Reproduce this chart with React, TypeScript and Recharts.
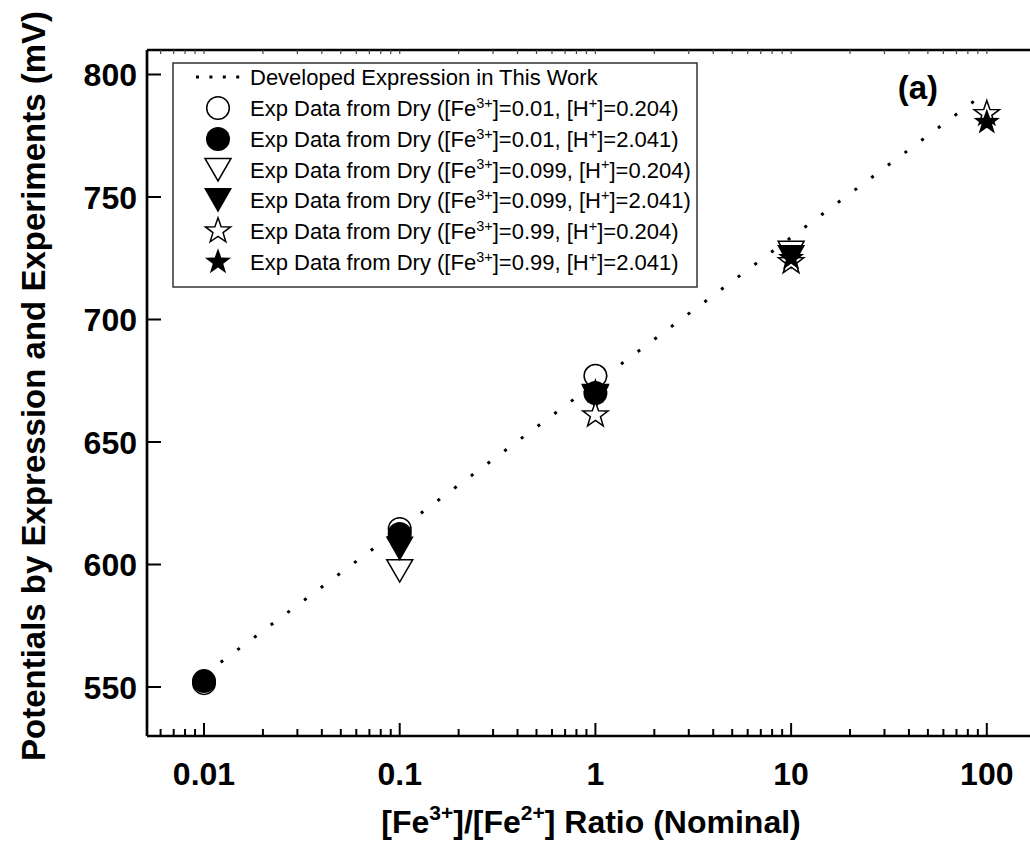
import React from 'react';
import { ComposedChart, Scatter, Line, XAxis, YAxis, Customized } from 'recharts';

// Nominal [Fe3+]/[Fe2+] ratios on the log axis (majors get labels)
const ratioTicks = [
  0.006, 0.007, 0.008, 0.009,
  0.01, 0.02, 0.03, 0.04, 0.05, 0.06, 0.07, 0.08, 0.09,
  0.1, 0.2, 0.3, 0.4, 0.5, 0.6, 0.7, 0.8, 0.9,
  1, 2, 3, 4, 5, 6, 7, 8, 9,
  10, 20, 30, 40, 50, 60, 70, 80, 90,
  100,
];
const majorRatios = [0.01, 0.1, 1, 10, 100];
const potentialTicks = [550, 600, 650, 700, 750, 800];

// Developed expression (potential in mV at each decade of ratio)
const modelRatios = [0.01, 0.1, 1, 10, 100];
const modelPotentials = [555, 614.5, 674, 733.5, 793];

// Experimental data from Dry, potential (mV) vs nominal ratio
const dryFe001H0204 = [
  { x: 0.01, y: 551.6 },
  { x: 0.1, y: 614.5 },
  { x: 1, y: 677 },
];
const dryFe001H2041 = [
  { x: 0.01, y: 552.4 },
  { x: 0.1, y: 612.5 },
  { x: 1, y: 670 },
];
const dryFe0099H0204 = [
  { x: 0.1, y: 597.5 },
  { x: 1, y: 669 },
  { x: 10, y: 727.5 },
];
const dryFe0099H2041 = [
  { x: 0.1, y: 606.5 },
  { x: 1, y: 668.5 },
  { x: 10, y: 725.5 },
];
const dryFe099H0204 = [
  { x: 1, y: 661 },
  { x: 10, y: 723.5 },
  { x: 100, y: 784 },
];
const dryFe099H2041 = [
  { x: 1, y: 670.5 },
  { x: 10, y: 725 },
  { x: 100, y: 780.5 },
];

const modelLine = modelRatios.map((r, i) => ({ x: r, y: modelPotentials[i] }));

type MarkerKind = 'circleOpen' | 'circleFilled' | 'triOpen' | 'triFilled' | 'starOpen' | 'starFilled';

const seriesList: { fe: string; h: string; data: { x: number; y: number }[]; marker: MarkerKind }[] = [
  { fe: '0.01', h: '0.204', data: dryFe001H0204, marker: 'circleOpen' },
  { fe: '0.01', h: '2.041', data: dryFe001H2041, marker: 'circleFilled' },
  { fe: '0.099', h: '0.204', data: dryFe0099H0204, marker: 'triOpen' },
  { fe: '0.099', h: '2.041', data: dryFe0099H2041, marker: 'triFilled' },
  { fe: '0.99', h: '0.204', data: dryFe099H0204, marker: 'starOpen' },
  { fe: '0.99', h: '2.041', data: dryFe099H2041, marker: 'starFilled' },
];

const FONT = '"Liberation Sans", Arial, Helvetica, sans-serif';
const X_MIN = 0.005113;
const X_MAX = 178.4;

function starPoints(cx: number, cy: number, R: number) {
  const pts: string[] = [];
  for (let i = 0; i < 10; i++) {
    const a = (-90 + i * 36) * (Math.PI / 180);
    const r = i % 2 === 0 ? R : R * 0.4;
    pts.push(`${cx + r * Math.cos(a)},${cy + r * Math.sin(a)}`);
  }
  return pts.join(' ');
}

function Marker({ kind, cx, cy }: { kind: MarkerKind; cx: number; cy: number }) {
  switch (kind) {
    case 'circleOpen':
      return <circle cx={cx} cy={cy} r={11.3} fill="#fff" stroke="#000" strokeWidth={1.5} />;
    case 'circleFilled':
      return <circle cx={cx} cy={cy} r={12} fill="#000" />;
    case 'triOpen':
      return (
        <polygon
          points={`${cx - 13},${cy - 11} ${cx + 13},${cy - 11} ${cx},${cy + 11.5}`}
          fill="#fff"
          stroke="#000"
          strokeWidth={1.5}
          strokeLinejoin="miter"
        />
      );
    case 'triFilled':
      return <polygon points={`${cx - 14},${cy - 12} ${cx + 14},${cy - 12} ${cx},${cy + 12.5}`} fill="#000" />;
    case 'starOpen':
      return <polygon points={starPoints(cx, cy, 13.3)} fill="#fff" stroke="#000" strokeWidth={1.5} />;
    case 'starFilled':
      return <polygon points={starPoints(cx, cy, 13.8)} fill="#000" />;
    default:
      return null;
  }
}

const BottomTick = (props: any) => {
  const { x, y, payload } = props;
  const major = majorRatios.includes(payload.value);
  return (
    <g>
      <line x1={x} x2={x} y1={y} y2={y - (major ? 13 : 7)} stroke="#000" strokeWidth={2} />
      {major && (
        <text x={x} y={y + 49} textAnchor="middle" fontFamily={FONT} fontWeight="bold" fontSize={32} fill="#000">
          {String(payload.value)}
        </text>
      )}
    </g>
  );
};

const TopTick = (props: any) => {
  const { x, y } = props;
  return <line x1={x} x2={x} y1={y} y2={y + 4} stroke="#444" strokeWidth={1.2} />;
};

const LeftTick = (props: any) => {
  const { x, y, payload } = props;
  return (
    <g>
      <line x1={x} x2={x + 14} y1={y} y2={y} stroke="#000" strokeWidth={2} />
      <text x={x - 10} y={y + 11.5} textAnchor="end" fontFamily={FONT} fontWeight="bold" fontSize={32} fill="#000">
        {String(payload.value)}
      </text>
    </g>
  );
};

const LegendBox = () => {
  const left = 173;
  const top = 63;
  const rowYs = [77, 108, 139, 169.5, 200, 231, 262];
  const symX = 218;
  const textX = 250;
  return (
    <g fontFamily={FONT} fill="#000">
      <rect x={left} y={top} width={524} height={224} fill="#fff" stroke="#333" strokeWidth={1.5} />
      <line x1={196} x2={241} y1={rowYs[0]} y2={rowYs[0]} stroke="#000" strokeWidth={3} strokeDasharray="3 10.4" />
      <text x={textX} y={rowYs[0] + 8} fontSize={22}>
        Developed Expression in This Work
      </text>
      {seriesList.map((s, i) => {
        const y = rowYs[i + 1];
        return (
          <g key={i}>
            <Marker kind={s.marker} cx={symX} cy={y} />
            <text x={textX} y={y + 8} fontSize={22}>
              <tspan>Exp Data from Dry ([Fe</tspan>
              <tspan dy={-8.5} fontSize={14.5}>3+</tspan>
              <tspan dy={8.5}>]={s.fe}, [H</tspan>
              <tspan dy={-8.5} fontSize={14.5}>+</tspan>
              <tspan dy={8.5}>]={s.h})</tspan>
            </text>
          </g>
        );
      })}
    </g>
  );
};

const Titles = () => (
  <g fontFamily={FONT} fontWeight="bold" fill="#000">
    <text x={938} y={99} textAnchor="end" fontSize={33}>
      (a)
    </text>
    <text x={591} y={833} textAnchor="middle" fontSize={32}>
      <tspan>[Fe</tspan>
      <tspan dy={-13} fontSize={21}>3+</tspan>
      <tspan dy={13}>]/[Fe</tspan>
      <tspan dy={-13} fontSize={21}>2+</tspan>
      <tspan dy={13}>] Ratio (Nominal)</tspan>
    </text>
    <text x={0} y={0} transform="translate(45, 386) rotate(-90)" textAnchor="middle" fontSize={33}>
      Potentials by Expression and Experiments (mV)
    </text>
  </g>
);

export default function App() {
  return (
    <div
      style={{
        position: 'absolute',
        left: 0,
        top: 0,
        width: 1030,
        height: 853,
        overflow: 'hidden',
        background: '#fff',
      }}
    >
      <ComposedChart width={1036} height={853} margin={{ top: 0, right: 0, bottom: 0, left: 0 }}>
        <XAxis
          xAxisId={0}
          dataKey="x"
          type="number"
          scale="log"
          domain={[X_MIN, X_MAX]}
          allowDataOverflow
          ticks={ratioTicks}
          interval={0}
          tickSize={0}
          tickMargin={0}
          tickLine={false}
          tick={<BottomTick />}
          height={117}
          axisLine={{ stroke: '#000', strokeWidth: 2.7 }}
        />
        <XAxis
          xAxisId="top"
          orientation="top"
          dataKey="x"
          type="number"
          scale="log"
          domain={[X_MIN, X_MAX]}
          allowDataOverflow
          ticks={ratioTicks}
          interval={0}
          tickSize={0}
          tickMargin={0}
          tickLine={false}
          tick={<TopTick />}
          height={50}
          axisLine={{ stroke: '#000', strokeWidth: 2.5 }}
        />
        <YAxis
          dataKey="y"
          type="number"
          domain={[530, 810]}
          allowDataOverflow
          ticks={potentialTicks}
          interval={0}
          tickSize={0}
          tickMargin={0}
          tickLine={false}
          tick={<LeftTick />}
          width={147}
          axisLine={{ stroke: '#000', strokeWidth: 2.7 }}
        />
        <Customized component={LegendBox} />
        <Line
          xAxisId={0}
          data={modelLine}
          dataKey="y"
          type="linear"
          stroke="#000"
          strokeWidth={3}
          strokeDasharray="3 17.8"
          dot={false}
          activeDot={false}
          isAnimationActive={false}
        />
        {seriesList.map((s, i) => (
          <Scatter
            key={i}
            xAxisId={0}
            data={s.data}
            isAnimationActive={false}
            shape={(p: any) => <Marker kind={s.marker} cx={p.cx} cy={p.cy} />}
          />
        ))}
        <Customized component={Titles} />
      </ComposedChart>
    </div>
  );
}
